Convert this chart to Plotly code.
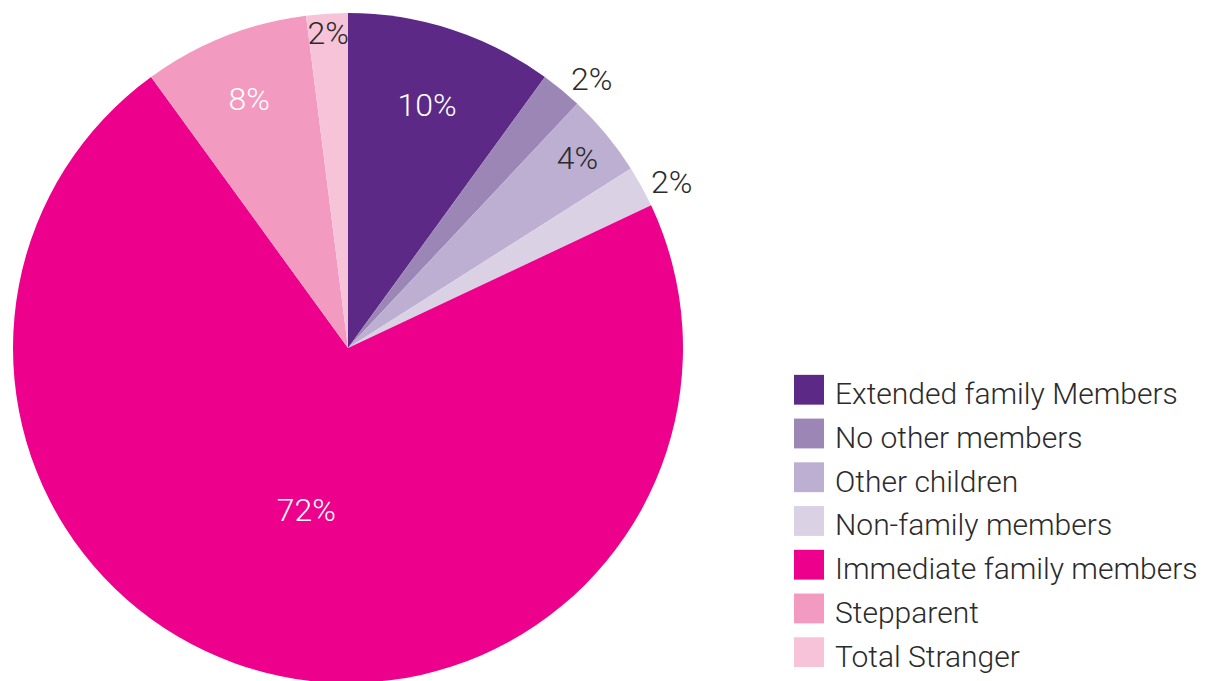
import plotly.graph_objects as go

# Household composition shares (percent)
labels = [
    "Extended family Members",
    "No other members",
    "Other children",
    "Non-family members",
    "Immediate family members",
    "Stepparent",
    "Total Stranger",
]
values = [10, 2, 4, 2, 72, 8, 2]
colors = ["#5C2A86", "#9B86B6", "#BCAFD1", "#DAD1E5", "#EC008C", "#F29AC0", "#F7C3D9"]
text_pos = ["inside", "outside", "inside", "outside", "inside", "inside", "inside"]
text_col = ["#FFFFFF", "#2B2B2B", "#2B2B2B", "#2B2B2B", "#FFFFFF", "#FFFFFF", "#2B2B2B"]

W, H = 1206, 688
M_T, M_B = 13, 1
PLOT_H = H - M_T - M_B
FONT = "Roboto, 'Liberation Sans', Arial, sans-serif"


def py(p):
    """Convert a pixel row (from top) to paper y."""
    return (H - M_B - p) / PLOT_H


def px(p):
    return p / W


fig = go.Figure(
    go.Pie(
        labels=labels,
        values=values,
        marker=dict(colors=colors, line=dict(width=0)),
        sort=False,
        direction="clockwise",
        rotation=0,
        texttemplate="%{value}%",
        textposition=text_pos,
        insidetextorientation="horizontal",
        textfont=dict(color=text_col, size=32, family=FONT, weight=300),
        hoverinfo="skip",
        showlegend=False,
        domain=dict(x=[px(11), px(685)], y=[0, 1]),
    )
)

# Legend: colour swatch plus label for each category
shapes, annotations = [], []
for i, (lab, col) in enumerate(zip(labels, colors)):
    top = 377 + 44 * i
    shapes.append(dict(
        type="rect", xref="paper", yref="paper",
        x0=px(794), x1=px(824), y0=py(top), y1=py(top + 30),
        fillcolor=col, line=dict(width=0),
    ))
    annotations.append(dict(
        xref="paper", yref="paper", x=px(833), y=py(top + 19),
        xanchor="left", yanchor="middle", showarrow=False,
        text=lab, font=dict(size=30, color="#2B2B2B", family=FONT, weight=300),
    ))

fig.update_layout(
    width=W,
    height=H,
    margin=dict(l=0, r=0, t=M_T, b=M_B),
    paper_bgcolor="white",
    plot_bgcolor="white",
    uniformtext=dict(minsize=32, mode="show"),
    shapes=shapes,
    annotations=annotations,
    font=dict(family=FONT),
)

fig.write_html(
    "out.html",
    post_script="document.documentElement.style.overflow='hidden';document.body.style.overflow='hidden';",
)
